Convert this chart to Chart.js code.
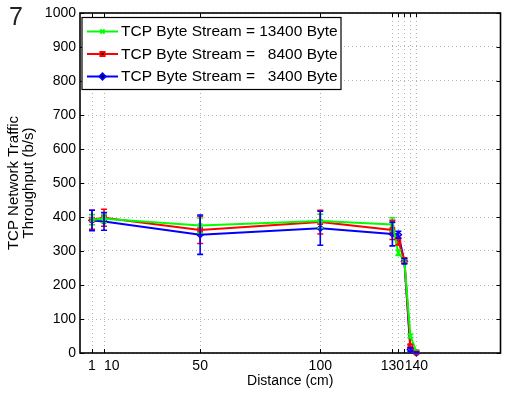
<!DOCTYPE html>
<html>
<head>
<meta charset="utf-8">
<script src="https://cdn.jsdelivr.net/npm/chart.js@4.4.1/dist/chart.umd.min.js"></script>
<style>
  html, body { margin: 0; padding: 0; background: #fff; }
  #wrap { width: 506px; height: 402px; }
</style>
</head>
<body>
<div id="wrap"><canvas id="c" width="506" height="402"></canvas></div>
<script>
// Measurement positions along the distance axis (cm) and their tick labels
const distance = [5, 10, 50, 100, 130, 132.5, 135, 137.5, 140];
const tickValues = [5, 10, 50, 100, 130, 132.5, 135, 137.5, 140];
const tickLabels = ['1', '    10', '50', '100', '130', '', '', '', '140'];

// Mean throughput (b/s) for each byte-stream size
const stream13400 = [392, 395, 375, 388, 378, 295, 272, 50, 4];
const stream8400  = [392, 398, 362, 385, 362, 328, 272, 20, 2];
const stream3400  = [390, 387, 348, 367, 350, 348, 270, 10, 0];

// Half-length of the error bars (b/s)
const err13400 = [15, 12, 22, 20, 20, 8, 5, 5, 3];
const err8400  = [28, 25, 40, 35, 28, 10, 8, 5, 3];
const err3400  = [30, 26, 58, 50, 35, 10, 8, 5, 3];

const seriesNames = ['TCP Byte Stream = 13400 Byte', 'TCP Byte Stream =   8400 Byte', 'TCP Byte Stream =   3400 Byte'];
const seriesColors = ['#00ff00', '#ff0000', '#0000ff'];
const seriesMarkers = ['crossRot', 'rect', 'rectRot'];

const FONT = '"Liberation Sans", Arial, Helvetica, sans-serif';

function toPoints(ys) { return distance.map((d, i) => ({ x: d, y: ys[i] })); }

const valueSets = [stream13400, stream8400, stream3400];
const errorSets = [err13400, err8400, err3400];

const datasets = valueSets.map((vals, k) => ({
  label: seriesNames[k],
  data: toPoints(vals),
  errors: errorSets[k],
  borderColor: seriesColors[k],
  backgroundColor: seriesColors[k],
  pointBorderColor: seriesColors[k],
  pointBackgroundColor: 'rgba(0,0,0,0)',
  pointStyle: seriesMarkers[k],
  pointRadius: 3,
  pointBorderWidth: 1.5,
  borderWidth: 2,
  tension: 0,
  clip: false
}));

// Box frame with inward tick marks on every side
const framePlugin = {
  id: 'frame',
  beforeDatasetsDraw(chart) {
    const { ctx, chartArea: a, scales } = chart;
    ctx.save();
    ctx.strokeStyle = '#000';
    ctx.lineWidth = 1;
    const tl = 4;
    scales.y.ticks.forEach(t => {
      const y = Math.round(scales.y.getPixelForValue(t.value)) + 0.5;
      ctx.beginPath();
      ctx.moveTo(a.left, y); ctx.lineTo(a.left + tl, y);
      ctx.moveTo(a.right, y); ctx.lineTo(a.right - tl, y);
      ctx.stroke();
    });
    scales.x.ticks.forEach(t => {
      const x = Math.round(scales.x.getPixelForValue(t.value)) + 0.5;
      ctx.beginPath();
      ctx.moveTo(x, a.bottom); ctx.lineTo(x, a.bottom - tl);
      ctx.moveTo(x, a.top); ctx.lineTo(x, a.top + tl);
      ctx.stroke();
    });
    ctx.lineWidth = 1.6;
    ctx.strokeRect(a.left, a.top, a.right - a.left, a.bottom - a.top);
    ctx.restore();
  }
};

// Vertical error bars with short caps
const errorBarPlugin = {
  id: 'errorBars',
  afterDatasetsDraw(chart) {
    const { ctx, scales } = chart;
    ctx.save();
    chart.data.datasets.forEach(ds => {
      ctx.strokeStyle = ds.borderColor;
      ctx.lineWidth = 1.6;
      ds.data.forEach((p, i) => {
        const e = ds.errors[i];
        if (!e) return;
        const x = scales.x.getPixelForValue(p.x);
        const yTop = scales.y.getPixelForValue(p.y + e);
        const yBot = scales.y.getPixelForValue(Math.max(0, p.y - e));
        const cap = 3;
        ctx.beginPath();
        ctx.moveTo(x, yTop); ctx.lineTo(x, yBot);
        ctx.moveTo(x - cap, yTop); ctx.lineTo(x + cap, yTop);
        ctx.moveTo(x - cap, yBot); ctx.lineTo(x + cap, yBot);
        ctx.stroke();
      });
    });
    ctx.restore();
  }
};

// Legend box in the upper-left corner plus the panel number
const legendPlugin = {
  id: 'boxLegend',
  afterDraw(chart) {
    const { ctx } = chart;
    ctx.save();
    const bx = 82, by = 17.5, bw = 259, bh = 72;
    ctx.fillStyle = '#fff';
    ctx.fillRect(bx, by, bw, bh);
    ctx.strokeStyle = '#000';
    ctx.lineWidth = 1.2;
    ctx.strokeRect(bx, by, bw, bh);
    const rows = [31.5, 54, 76.5];
    chart.data.datasets.forEach((ds, k) => {
      const y = rows[k];
      ctx.strokeStyle = ds.borderColor;
      ctx.lineWidth = 2;
      ctx.beginPath();
      ctx.moveTo(87, y); ctx.lineTo(118, y);
      ctx.stroke();
      Chart.helpers.drawPoint(ctx, { pointStyle: ds.pointStyle, radius: 3, borderWidth: 1.5 }, 102.5, y);
      ctx.fillStyle = '#000';
      ctx.font = '15.5px ' + FONT;
      ctx.textAlign = 'left';
      ctx.textBaseline = 'middle';
      ctx.fillText(ds.label, 121, y + 0.5);
    });
    ctx.fillStyle = '#222';
    ctx.font = '25px ' + FONT;
    ctx.textAlign = 'left';
    ctx.textBaseline = 'alphabetic';
    ctx.fillText('7', 9, 25);
    ctx.restore();
  }
};

new Chart(document.getElementById('c'), {
  type: 'line',
  data: { datasets },
  options: {
    responsive: false,
    animation: false,
    layout: { padding: { top: 13, right: 4, left: 0, bottom: 0 } },
    plugins: { legend: { display: false }, tooltip: { enabled: false } },
    scales: {
      x: {
        type: 'linear',
        min: 0,
        max: 175,
        afterFit(s) { s.height = 49; },
        afterBuildTicks(s) { s.ticks = tickValues.map(v => ({ value: v })); },
        ticks: {
          autoSkip: false,
          maxRotation: 0,
          padding: 5,
          color: '#000',
          font: { family: FONT, size: 14 },
          callback: (v) => { const i = tickValues.indexOf(v); return i >= 0 ? tickLabels[i] : ''; }
        },
        grid: { color: '#b4b4b4', lineWidth: 1, drawTicks: false },
        border: { display: false, dash: [1, 3] },
        title: {
          display: true,
          text: 'Distance (cm)',
          color: '#000',
          font: { family: FONT, size: 14, lineHeight: 1.2 },
          padding: { top: 0, bottom: 12 }
        }
      },
      y: {
        min: 0,
        max: 1000,
        afterFit(s) { s.width = 80; },
        ticks: {
          stepSize: 100,
          padding: 4,
          color: '#000',
          font: { family: FONT, size: 14 },
          callback: (v) => String(v)
        },
        grid: { color: '#b4b4b4', lineWidth: 1, drawTicks: false },
        border: { display: false, dash: [1, 3] },
        title: {
          display: true,
          text: ['TCP Network Traffic', 'Throughput (b/s)'],
          color: '#000',
          font: { family: FONT, size: 15, lineHeight: 1.0 },
          padding: { top: 6, bottom: 0 }
        }
      }
    }
  },
  plugins: [framePlugin, errorBarPlugin, legendPlugin]
});
</script>
</body>
</html>
